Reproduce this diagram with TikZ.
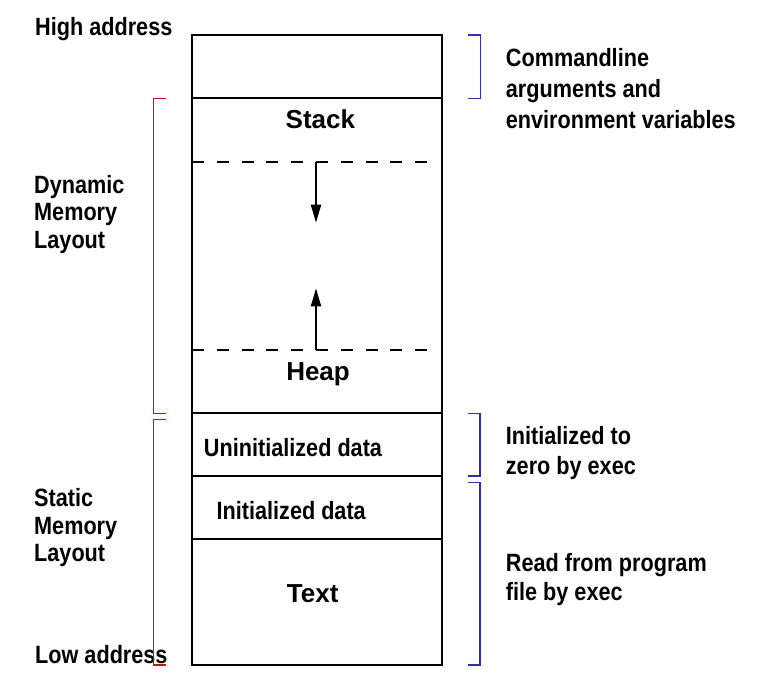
\documentclass[tikz,border=0pt]{standalone}
\usepackage{fontspec}
\setmainfont{Liberation Sans}
\newfontfamily\narrowsf[FakeStretch=0.866]{Liberation Sans}
\usetikzlibrary{positioning,arrows.meta}
\definecolor{brkred}{RGB}{204,16,24}
\definecolor{brkblue}{RGB}{48,48,168}
\tikzset{
    seg/.style={
           rectangle,
           draw=black, line width=2pt,
           minimum width=249.7pt,
           inner sep=0pt, outer sep=0pt
           },
    segname/.style={
           anchor=base, inner sep=0pt,
           font=\fontsize{26pt}{30pt}\selectfont\bfseries
           },
    note/.style={
           anchor=base west, inner sep=0pt, align=left,
           font=\narrowsf\fontsize{25pt}{#1}\selectfont\bfseries
           },
    note/.default=27.5pt,
    segnote/.style={
           note, anchor=base
           },
    limitline/.style={
           line width=2pt, dash pattern=on 12pt off 12.8pt
           },
    growarrow/.style={
           line width=2pt, -{Triangle[length=18pt,width=10pt]}
           },
    redbrk/.style={draw=brkred, line width=1.3pt},
    bluebrk/.style={draw=brkblue, line width=1.3pt}
}
\begin{document}
\begin{tikzpicture}
   \useasboundingbox (0,0) rectangle (772pt,681pt);
   % memory segments, top to bottom
   \node[seg, minimum height=63.3pt] (argv) at (316.85pt,614.35pt) {};
   \node[seg, minimum height=315pt, below=0pt of argv] (dyn) {};
   \node[seg, minimum height=62.7pt, below=0pt of dyn] (bss) {};
   \node[seg, minimum height=63.3pt, below=0pt of bss] (data) {};
   \node[seg, minimum height=125.7pt, below=0pt of data] (text) {};

   \node[segname] (stacklbl) at ([xshift=3.5pt,yshift=-30.7pt]dyn.north) {Stack};
   \node[segname] (heaplbl) at ([xshift=1.2pt,yshift=32.6pt]dyn.south) {Heap};
   \node[segnote] (bsslbl) at ([xshift=-23.85pt,yshift=-12pt]bss.center) {Uninitialized data};
   \node[segnote] (datalbl) at ([xshift=-25.65pt,yshift=-12.35pt]data.center) {Initialized data};
   \node[segname] (textlbl) at ([xshift=-4.15pt,yshift=-0.15pt]text.center) {Text};

   % stack and heap limits
   \coordinate (stacklim) at ([yshift=-63.4pt]dyn.north west);
   \coordinate (heaplim) at ([yshift=63.3pt]dyn.south west);
   \draw[limitline] (stacklim) -- ++(235.2pt,0);
   \draw[limitline] (heaplim) -- ++(235.2pt,0);
   \coordinate (stackgrow) at ([xshift=124pt]stacklim);
   \coordinate (heapgrow) at ([xshift=124pt]heaplim);
   \draw[growarrow] (stackgrow) -- ++(0,-61pt);
   \draw[growarrow] (heapgrow) -- ++(0,61.7pt);

   % left side (base = last line)
   \node[note] (high) at (35pt,645pt) {High address};
   \node[note] (low) at (35pt,17.7pt) {Low address};
   \node[note] (dynlbl) at (34pt,432.7pt) {Dynamic\\Memory\\Layout};
   \node[note] (statlbl) at (34pt,119.3pt) {Static\\Memory\\Layout};
   \draw[redbrk] ([xshift=-26.3pt]dyn.north west) -| ([xshift=-38.7pt]dyn.south west)
                 -- ([xshift=-26.3pt]dyn.south west);
   \draw[redbrk] ([xshift=-26.3pt,yshift=-6pt]bss.north west) -| ([xshift=-38.7pt]text.south west)
                 -- ([xshift=-26.3pt]text.south west);

   % right side
   \draw[bluebrk] ([xshift=26pt]argv.north east) -| ([xshift=39pt]argv.south east)
                  -- ([xshift=26pt]argv.south east);
   \draw[bluebrk] ([xshift=26.6pt]bss.north east) -| ([xshift=38.3pt]bss.south east)
                  -- ([xshift=26.6pt]bss.south east);
   \draw[bluebrk] ([xshift=26.6pt,yshift=-6.3pt]data.north east) -| ([xshift=38.3pt]text.south east)
                  -- ([xshift=26.6pt]text.south east);
   \node[note=31pt] (argvlbl) at (505.7pt,552.7pt) {Commandline\\arguments and\\environment variables};
   \node[note=30pt] (bssnote) at (505.7pt,206pt) {Initialized to\\zero by exec};
   \node[note=28.5pt] (textnote) at (505.7pt,81pt) {Read from program\\file by exec};
\end{tikzpicture}
\end{document}
